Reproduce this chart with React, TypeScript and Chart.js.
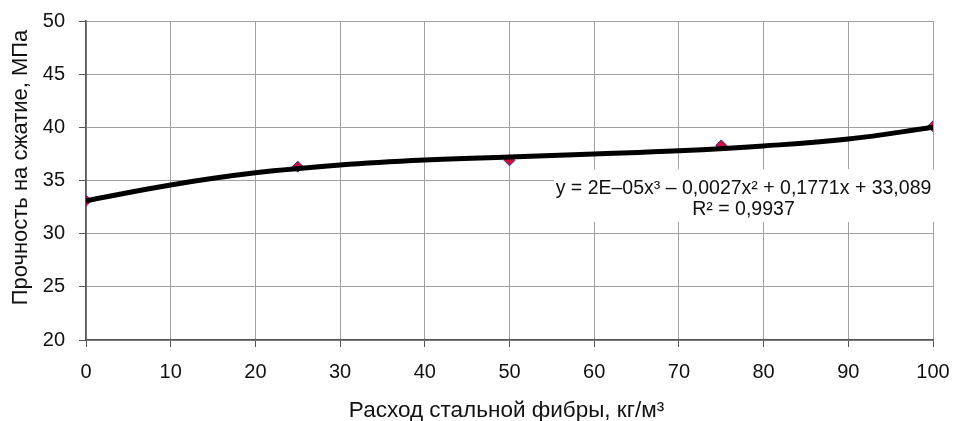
import React, { useEffect, useRef } from "react";
import { Chart, registerables } from "chart.js";

Chart.register(...registerables);

// Measured points: steel fibre dosage (kg/m³) vs compressive strength (MPa)
const fiberDosage = [0, 25, 50, 75, 100];
const strength = [33.1, 36.3, 36.9, 38.3, 40.1];

// Trend line
const trendX = [0, 10, 20, 30, 40, 50, 60, 70, 80, 90, 100];
const trendY = [33.1, 34.58, 35.72, 36.46, 36.93, 37.22, 37.5, 37.8, 38.25, 38.9, 40.0];

const xTitle = "Расход стальной фибры, кг/м³";
const yTitle = "Прочность на сжатие, МПа";
const equationLines = ["y = 2E–05x³ – 0,0027x² + 0,1771x + 33,089", "R² = 0,9937"];

const FONT = "'Liberation Sans', Arial, sans-serif";

const overlayPlugin = {
  id: "overlay",
  afterDatasetsDraw(chart: any) {
    const ctx = chart.ctx;
    const a = chart.chartArea;
    ctx.save();
    // equation box
    const boxL = a.right - 379;
    const boxR = a.right + 4;
    const boxT = a.top + 148;
    const boxB = a.top + 201;
    ctx.fillStyle = "#ffffff";
    ctx.fillRect(boxL, boxT, boxR - boxL, boxB - boxT);
    ctx.fillStyle = "#111111";
    ctx.font = `19.5px ${FONT}`;
    ctx.textAlign = "center";
    ctx.textBaseline = "alphabetic";
    const cx = (boxL + boxR) / 2 - 2;
    ctx.fillText(equationLines[0], cx, a.top + 173);
    ctx.fillText(equationLines[1], cx, a.top + 194);
    ctx.restore();
  },
  afterDraw(chart: any) {
    const ctx = chart.ctx;
    const a = chart.chartArea;
    ctx.save();
    ctx.fillStyle = "#111111";
    ctx.font = `22.5px ${FONT}`;
    ctx.textAlign = "center";
    ctx.textBaseline = "alphabetic";
    ctx.fillText(xTitle, (a.left + a.right) / 2 - 3, a.bottom + 77);
    ctx.font = `22px ${FONT}`;
    ctx.translate(a.left - 59, (a.top + a.bottom) / 2 - 13);
    ctx.rotate(-Math.PI / 2);
    ctx.fillText(yTitle, 0, 0);
    ctx.restore();
  },
};

export default function App() {
  const ref = useRef<HTMLCanvasElement | null>(null);

  useEffect(() => {
    if (!ref.current) return;
    const chart = new Chart(ref.current, {
      type: "scatter",
      data: {
        datasets: [
          {
            label: "trend",
            data: trendX.map((x, i) => ({ x, y: trendY[i] })),
            showLine: true,
            borderColor: "#000000",
            borderWidth: 5,
            pointRadius: 0,
            tension: 0.4,
            fill: false,
          },
          {
            label: "data",
            data: fiberDosage.map((x, i) => ({ x, y: strength[i] })),
            showLine: false,
            pointStyle: "rectRot",
            pointRadius: 5.5,
            backgroundColor: "#d0103c",
            borderColor: "#2c2a8c",
            borderWidth: 1,
          },
        ],
      },
      options: {
        animation: false,
        responsive: false,
        maintainAspectRatio: false,
        layout: { padding: { top: 21, right: 20, left: 0, bottom: 0 } },
        plugins: {
          legend: { display: false },
          tooltip: { enabled: false },
        },
        scales: {
          x: {
            type: "linear",
            min: 0,
            max: 100,
            ticks: {
              stepSize: 10,
              color: "#111111",
              font: { family: FONT, size: 20 },
              padding: 13,
              maxRotation: 0,
            },
            grid: { color: "#a0a0a0", lineWidth: 1, tickLength: 7, tickColor: "#555555" },
            border: { color: "#555555", width: 1.5 },
            afterFit: (s: any) => {
              s.height = 81;
              s.paddingLeft = 0;
              s.paddingRight = 0;
            },
          },
          y: {
            type: "linear",
            min: 20,
            max: 50,
            ticks: {
              stepSize: 5,
              color: "#111111",
              font: { family: FONT, size: 20 },
              padding: 14,
            },
            grid: { color: "#a0a0a0", lineWidth: 1, tickLength: 7, tickColor: "#555555" },
            border: { color: "#555555", width: 1.5 },
            afterFit: (s: any) => {
              s.width = 86;
              s.paddingTop = 0;
              s.paddingBottom = 0;
            },
          },
        },
      },
      plugins: [overlayPlugin],
    });
    return () => chart.destroy();
  }, []);

  return (
    <div style={{ position: "fixed", left: 0, top: 0, width: 953, height: 421, background: "#fff" }}>
      <canvas ref={ref} width={953} height={421} style={{ display: "block" }} />
    </div>
  );
}
